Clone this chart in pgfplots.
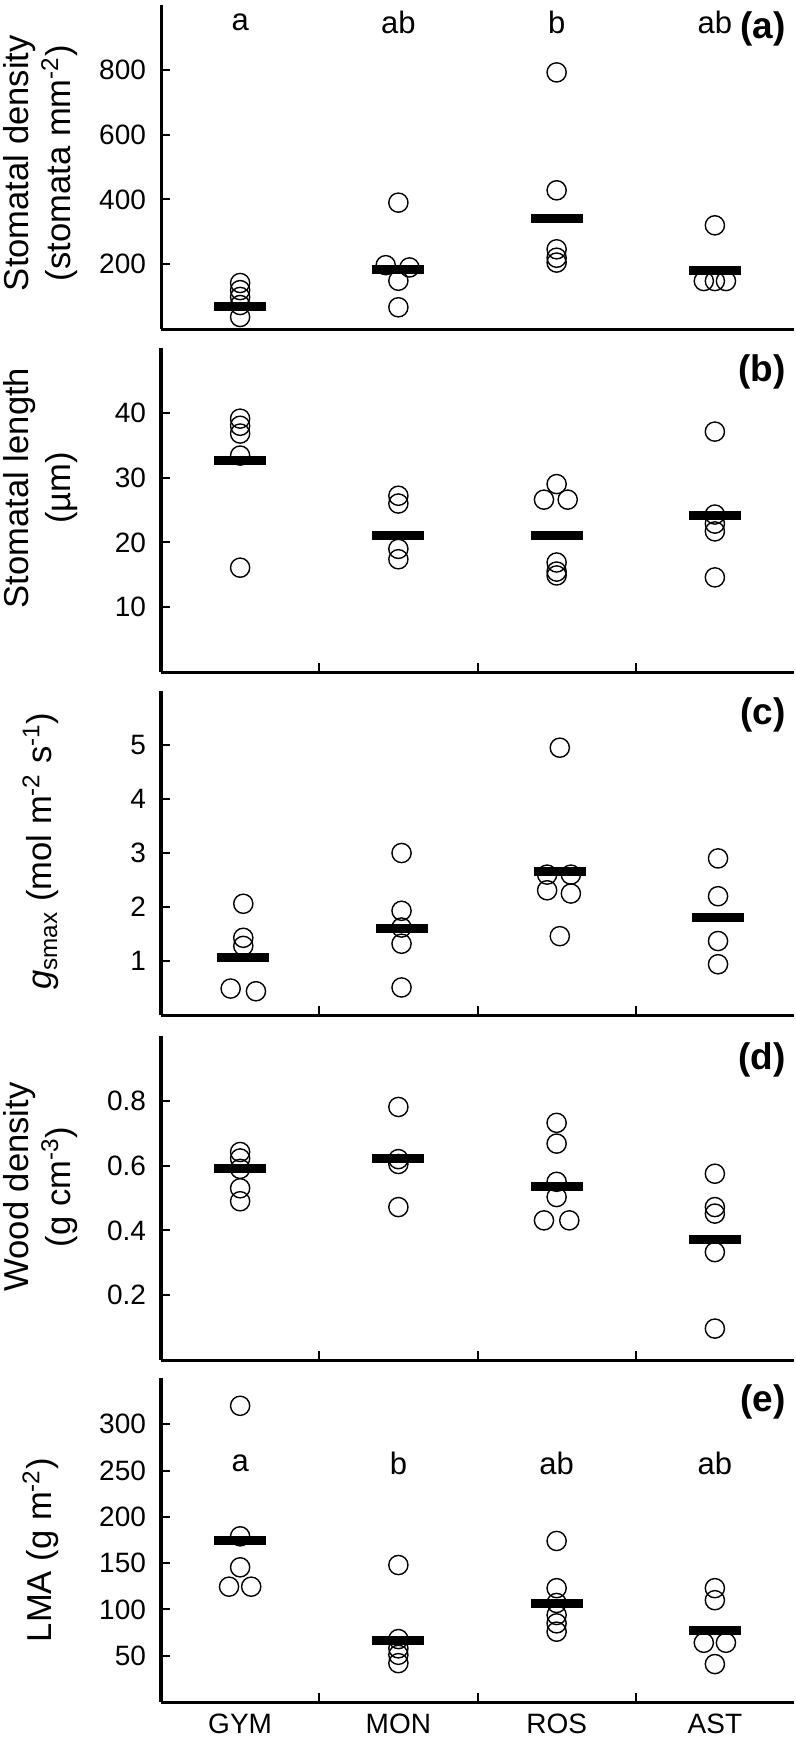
\documentclass[border=0pt]{standalone}
\usepackage{fontspec}
\setmainfont{Liberation Sans}
\usepackage{pgfplots}
\pgfplotsset{compat=1.18}
\pgfplotsset{
  panel/.style={
    scale only axis, width=316.5pt, height=162pt,
    xmin=0.5, xmax=4.5,
    axis lines*=left, axis line style={-, line width=1.5pt},
    tick align=inside, major tick length=4.5pt,
    tick style={black, line width=1pt},
    xtick={1.5,2.5,3.5}, xticklabels={},
    ytick pos=left, xtick pos=bottom,
    ticklabel style={font=\fontsize{14}{16}\selectfont},
    /pgf/number format/assume math mode=true,
    yticklabel style={xshift=-4pt},
    xticklabel style={yshift=-2.3pt},
    ylabel style={font=\fontsize{17.3}{21}\selectfont, align=center, anchor=center},
    clip=false,
  },
  dots/.style={only marks, mark=o, mark size=4.8pt, mark options={line width=0.7pt, draw=black}},
  means/.style={only marks, mark=-, mark size=13pt, mark options={line width=4.5pt, draw=black}},
}
\tikzset{
  lett/.style={font=\fontsize{15.5}{18}\selectfont},
  plab/.style={anchor=north east, inner sep=0pt, font=\bfseries\fontsize{18.5}{21}\selectfont, xshift=-4pt, yshift=-3pt},
}
\begin{document}
\begin{tikzpicture}
\path[use as bounding box] (0,0) rectangle (398pt,-874.5pt);
% (a)
\begin{axis}[panel, at={(80.5pt,-164.5pt)}, anchor=south west,
  ymin=0, ymax=1000, ytick={200,400,600,800}, xtick=\empty,
  ylabel={Stomatal density\\(stomata mm\textsuperscript{-2})},
  ylabel style={at={(axis description cs:-0.19,0.512)}}]
\addplot[dots] coordinates {(1,142)(1,120)(1,99)(1,74)(1,37)
  (2,390)(1.92,197)(2.07,190)(2,149)(2,67)
  (3,792)(3,428)(3,246)(3,220)(3,205)
  (3.93,148)(4,148)(4.07,148)(4,320)};
\addplot[means] coordinates {(1,68)(2,185)(3,340)(4,182)};
\node[lett] at (axis cs:1,947) {a};
\node[lett] at (axis cs:2,947) {ab};
\node[lett] at (axis cs:3,947) {b};
\node[lett] at (axis cs:4,947) {ab};
\node[plab] at (rel axis cs:1,1) {(a)};
\end{axis}
% (b)
\begin{axis}[panel, at={(80.5pt,-336pt)}, anchor=south west,
  ymin=0, ymax=50, ytick={10,20,30,40},
  ylabel={Stomatal length\\(µm)},
  ylabel style={at={(axis description cs:-0.19,0.568)}}]
\addplot[dots] coordinates {(1,39.1)(1,38.0)(1,36.8)(1,33.4)(1,16.1)
  (2,27.2)(2,26.0)(2,19.0)(2,17.4)
  (3,29.0)(2.92,26.6)(3.07,26.6)(3,16.9)(3,15.5)(3,14.9)
  (4,37.1)(4,24.3)(4,22.9)(4,21.7)(4,14.6)};
\addplot[means] coordinates {(1,32.7)(2,21.0)(3,21.1)(4,24.2)};
\node[plab] at (rel axis cs:1,1) {(b)};
\end{axis}
% (c)
\begin{axis}[panel, at={(80.5pt,-507.5pt)}, anchor=south west,
  ymin=0, ymax=6, ytick={1,2,3,4,5},
  ylabel={\textit{g}\textsubscript{smax} (mol m\textsuperscript{-2} s\textsuperscript{-1})},
  ylabel style={at={(axis description cs:-0.19,0.506)}}]
\addplot[dots] coordinates {(1.02,2.06)(1.02,1.43)(1.02,1.28)(0.94,0.49)(1.10,0.44)
  (2.02,3.0)(2.02,1.93)(2.02,1.62)(2.02,1.32)(2.02,0.51)
  (3.02,4.95)(2.94,2.60)(3.09,2.60)(2.94,2.31)(3.09,2.25)(3.02,1.46)
  (4.02,2.9)(4.02,2.2)(4.02,1.37)(4.02,0.94)};
\addplot[means] coordinates {(1.02,1.07)(2.02,1.61)(3.02,2.65)(4.02,1.80)};
\node[plab] at (rel axis cs:1,1) {(c)};
\end{axis}
% (d)
\begin{axis}[panel, at={(80.5pt,-680pt)}, anchor=south west,
  ymin=0, ymax=1, ytick={0.2,0.4,0.6,0.8},
  ylabel={Wood density\\(g cm\textsuperscript{-3})},
  ylabel style={at={(axis description cs:-0.19,0.534)}}]
\addplot[dots] coordinates {(1,0.642)(1,0.622)(1,0.59)(1,0.53)(1,0.49)
  (2,0.781)(2,0.62)(2,0.605)(2,0.472)
  (3,0.732)(3,0.668)(3,0.55)(3,0.503)(2.92,0.431)(3.08,0.431)
  (4,0.575)(4,0.472)(4,0.452)(4,0.333)(4,0.097)};
\addplot[means] coordinates {(1,0.591)(2,0.622)(3,0.536)(4,0.373)};
\node[plab] at (rel axis cs:1,1) {(d)};
\end{axis}
% (e)
\begin{axis}[panel, at={(80.5pt,-851pt)}, anchor=south west,
  ymin=0, ymax=350, ytick={50,100,150,200,250,300},
  extra x ticks={1,2,3,4}, extra x tick labels={GYM,MON,ROS,AST},
  extra x tick style={major tick length=0pt},
  ylabel={LMA (g m\textsuperscript{-2})},
  ylabel style={at={(axis description cs:-0.19,0.469)}}]
\addplot[dots] coordinates {(1,320)(1,179)(1,145.5)(0.93,124.6)(1.07,124.6)
  (2,148)(2,68)(2,58)(2,51)(2,42)
  (3,174)(3,123)(3,107)(3,94)(3,85)(3,76)
  (4,123)(4,110)(3.93,64)(4.07,64)(4,41)};
\addplot[means] coordinates {(1,174)(2,67)(3,106.6)(4,77)};
\node[lett] at (axis cs:1,258) {a};
\node[lett] at (axis cs:2,258) {b};
\node[lett] at (axis cs:3,258) {ab};
\node[lett] at (axis cs:4,258) {ab};
\node[plab] at (rel axis cs:1,1) {(e)};
\end{axis}
\end{tikzpicture}
\end{document}
